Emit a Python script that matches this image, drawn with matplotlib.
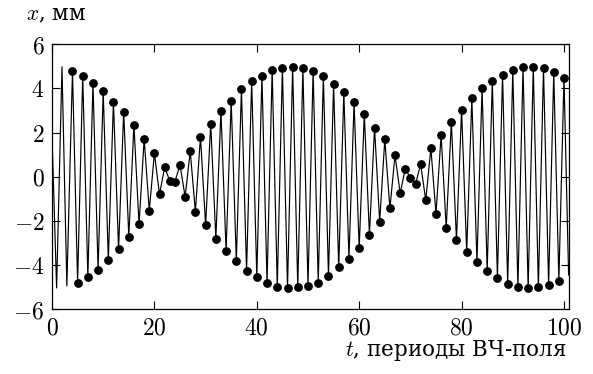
import matplotlib
matplotlib.use('Agg')
import matplotlib.pyplot as plt
from matplotlib.ticker import FuncFormatter

plt.rcParams['mathtext.fontset'] = 'cm'
plt.rcParams['font.family'] = ['DejaVu Serif']

# first swings, drawn without markers
t_head = [0.1, 0.9, 1.95, 2.9]
x_head = [1.07, -5.04, 4.98, -4.95]

# extrema marked with dots, one per RF period
t_dots = list(range(4, 101))
x_dots = [
    4.80, -4.80, 4.58, -4.55, 4.26, -4.23, 3.88, -3.77, 3.40, -3.29,
    2.95, -2.72, 2.34, -2.16, 1.71, -1.54, 1.07, -0.80, 0.42, -0.18,
    -0.23, 0.53, -0.91, 1.15, -1.58, 1.81, -2.20, 2.40, -2.81, 2.98,
    -3.37, 3.44, -3.82, 3.96, -4.26, 4.35, -4.54, 4.58, -4.80, 4.83,
    -4.98, 4.94, -5.03, 4.96, -5.01, 4.91, -4.95, 4.80, -4.80, 4.56,
    -4.50, 4.20, -4.11, 3.82, -3.71, 3.37, -3.23, 2.84, -2.64, 2.22,
    -2.05, 1.69, -1.43, 0.98, -0.75, 0.36, -0.05, -0.35, 0.58, -1.07,
    1.29, -1.69, 1.89, -2.32, 2.49, -2.88, 3.02, -3.40, 3.55, -3.88,
    4.01, -4.26, 4.35, -4.58, 4.62, -4.86, 4.83, -5.00, 4.96, -5.06,
    4.96, -5.00, 4.91, -4.91, 4.73, -4.71, 4.49,
]

# last swing running out of the frame
t_tail = [100.9]
x_tail = [-4.45]

x_ticks = [0, 20, 40, 60, 80, 100]
y_ticks = [-6, -4, -2, 0, 2, 4, 6]


def main():
    fig = plt.figure(figsize=(5.93, 3.74), dpi=100)
    ax = fig.add_axes([0.0877, 0.1735, 0.872, 0.708])

    t_line = t_head + t_dots + t_tail
    x_line = x_head + x_dots + x_tail
    ax.plot(t_line, x_line, color='k', lw=0.85)
    ax.plot(t_dots, x_dots, 'o', color='k', ms=5.3)

    ax.set_xlim(0, 101)
    ax.set_ylim(-6, 6)
    ax.set_xticks(x_ticks)
    ax.set_yticks(y_ticks)
    fmt = FuncFormatter(lambda v, pos: f'${v:g}$')
    ax.xaxis.set_major_formatter(fmt)
    ax.yaxis.set_major_formatter(fmt)
    ax.tick_params(direction='in', length=5.8, width=0.8,
                   top=True, right=True, labelsize=17)
    ax.tick_params(axis='y', pad=5.5)
    ax.tick_params(axis='x', pad=5.5)
    for s in ax.spines.values():
        s.set_linewidth(0.9)

    fig.text(0.044, 0.9465, '$x$, мм', fontsize=15.5, ha='left',
             va='baseline')
    fig.text(0.956, 0.048, '$t$, периоды ВЧ-поля', fontsize=15.5,
             ha='right', va='baseline')

    fig.savefig('out.png', dpi=100)


if __name__ == '__main__':
    main()
